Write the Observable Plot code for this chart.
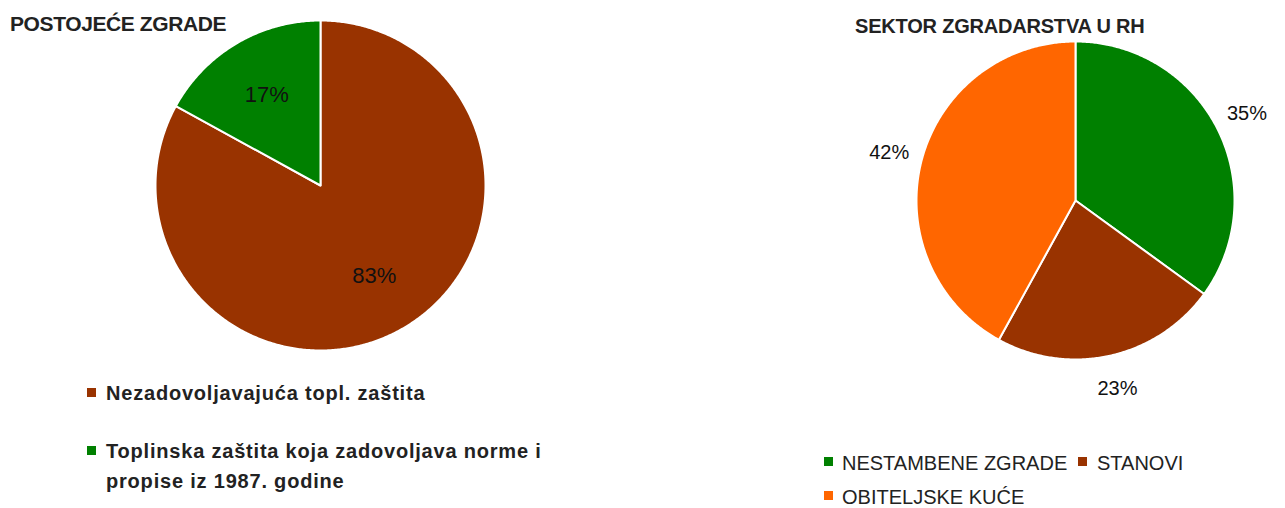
<!DOCTYPE html>
<html>
<head>
<meta charset="utf-8">
<script src="https://cdn.jsdelivr.net/npm/d3@7"></script>
<script src="https://cdn.jsdelivr.net/npm/@observablehq/plot@0.6"></script>
<style>
  html, body { margin: 0; padding: 0; background: #fff; }
  #wrap { position: relative; width: 1285px; height: 508px; overflow: hidden; font-family: "Liberation Sans", Arial, sans-serif; color: #1a1a1a; }
  .abs { position: absolute; white-space: nowrap; }
  .title { font-size: 20px; font-weight: bold; line-height: 1; color: #222; }
  .sq { position: absolute; width: 9px; height: 9px; }
  .legL { font-size: 20px; font-weight: bold; line-height: 30px; letter-spacing: 0.8px; color: #222; }
  .legR { font-size: 20px; line-height: 1; color: #222; }
</style>
</head>
<body>
<div id="wrap"></div>
<script>
// ---- data ----
const leftTitle = "POSTOJEĆE ZGRADE";
const leftCategories = ["Nezadovoljavajuća topl. zaštita", "Toplinska zaštita koja zadovoljava norme i propise iz 1987. godine"];
const leftValues = [83, 17];
const leftColors = ["#993300", "#008000"];

const rightTitle = "SEKTOR ZGRADARSTVA U RH";
const rightCategories = ["NESTAMBENE ZGRADE", "STANOVI", "OBITELJSKE KUĆE"];
const rightValues = [35, 23, 42];
const rightColors = ["#008000", "#993300", "#FF6600"];

// build slice polygons (unit circle, clockwise from 12 o'clock)
function slices(cats, vals, cols) {
  const arcs = d3.pie().sort(null).value(d => d.v)(cats.map((c, i) => ({c, v: vals[i], col: cols[i]})));
  const pts = [];
  const labels = [];
  arcs.forEach(a => {
    pts.push({x: 0, y: 0, name: a.data.c, col: a.data.col});
    const n = Math.max(2, Math.ceil((a.endAngle - a.startAngle) / (Math.PI / 360)));
    for (let k = 0; k <= n; k++) {
      const t = a.startAngle + (a.endAngle - a.startAngle) * k / n;
      pts.push({x: Math.sin(t), y: Math.cos(t), name: a.data.c, col: a.data.col});
    }
    pts.push({x: 0, y: 0, name: a.data.c, col: a.data.col});
    const m = (a.startAngle + a.endAngle) / 2;
    labels.push({mx: Math.sin(m), my: Math.cos(m), text: a.data.v + "%"});
  });
  return {pts, labels};
}

const wrap = document.getElementById("wrap");

function addPie(cats, vals, cols, opts) {
  const {pts, labels} = slices(cats, vals, cols);
  const r = opts.r, w = opts.w, h = opts.h;
  const chart = Plot.plot({
    width: w, height: h, margin: 0,
    x: {domain: [-(w / 2) / r, (w / 2) / r], axis: null},
    y: {domain: [-(h / 2) / r, (h / 2) / r], axis: null},
    color: {type: "identity"},
    marks: [
      Plot.line(pts, {x: "x", y: "y", z: "name", fill: "col", stroke: "white", strokeWidth: 2, strokeLinejoin: "round"}),
      Plot.text(labels, {
        x: d => d.mx * opts.lf, y: d => d.my * opts.lf, text: "text",
        fontSize: opts.fs, fill: "#111", fontWeight: opts.fw,
        fontFamily: "Liberation Sans, Arial, sans-serif"
      })
    ]
  });
  chart.style.position = "absolute";
  chart.style.left = (opts.cx - w / 2) + "px";
  chart.style.top = (opts.cy - h / 2) + "px";
  chart.style.overflow = "visible";
  wrap.appendChild(chart);
}

addPie(leftCategories, leftValues, leftColors, {cx: 320, cy: 185, r: 165, w: 340, h: 340, lf: 0.64, fs: 22, fw: "normal"});
addPie(rightCategories, rightValues, rightColors, {cx: 1075, cy: 200, r: 159, w: 460, h: 420, lf: 1.21, fs: 20, fw: "normal"});

function el(cls, text, left, top, extra) {
  const d = document.createElement("div");
  d.className = "abs " + cls;
  d.textContent = text;
  d.style.left = left + "px";
  d.style.top = top + "px";
  if (extra) Object.assign(d.style, extra);
  wrap.appendChild(d);
  return d;
}
function sq(col, left, top) {
  const d = document.createElement("div");
  d.className = "sq";
  d.style.background = col;
  d.style.left = left + "px";
  d.style.top = top + "px";
  wrap.appendChild(d);
}

// titles
el("title", leftTitle, 10, 13, {fontSize: "21px", letterSpacing: "-0.4px"});
el("title", rightTitle, 855, 16, {letterSpacing: "-0.2px"});

// left legend
sq(leftColors[0], 87, 388);
el("legL", leftCategories[0], 106, 378);
sq(leftColors[1], 87, 446);
el("legL", leftCategories[1], 106, 436, {whiteSpace: "normal", width: "480px"});

// right legend
sq(rightColors[0], 824, 457);
el("legR", rightCategories[0], 842, 453);
sq(rightColors[1], 1078, 457);
el("legR", rightCategories[1], 1097, 453);
sq(rightColors[2], 824, 491);
el("legR", rightCategories[2], 842, 487);
</script>
</body>
</html>
